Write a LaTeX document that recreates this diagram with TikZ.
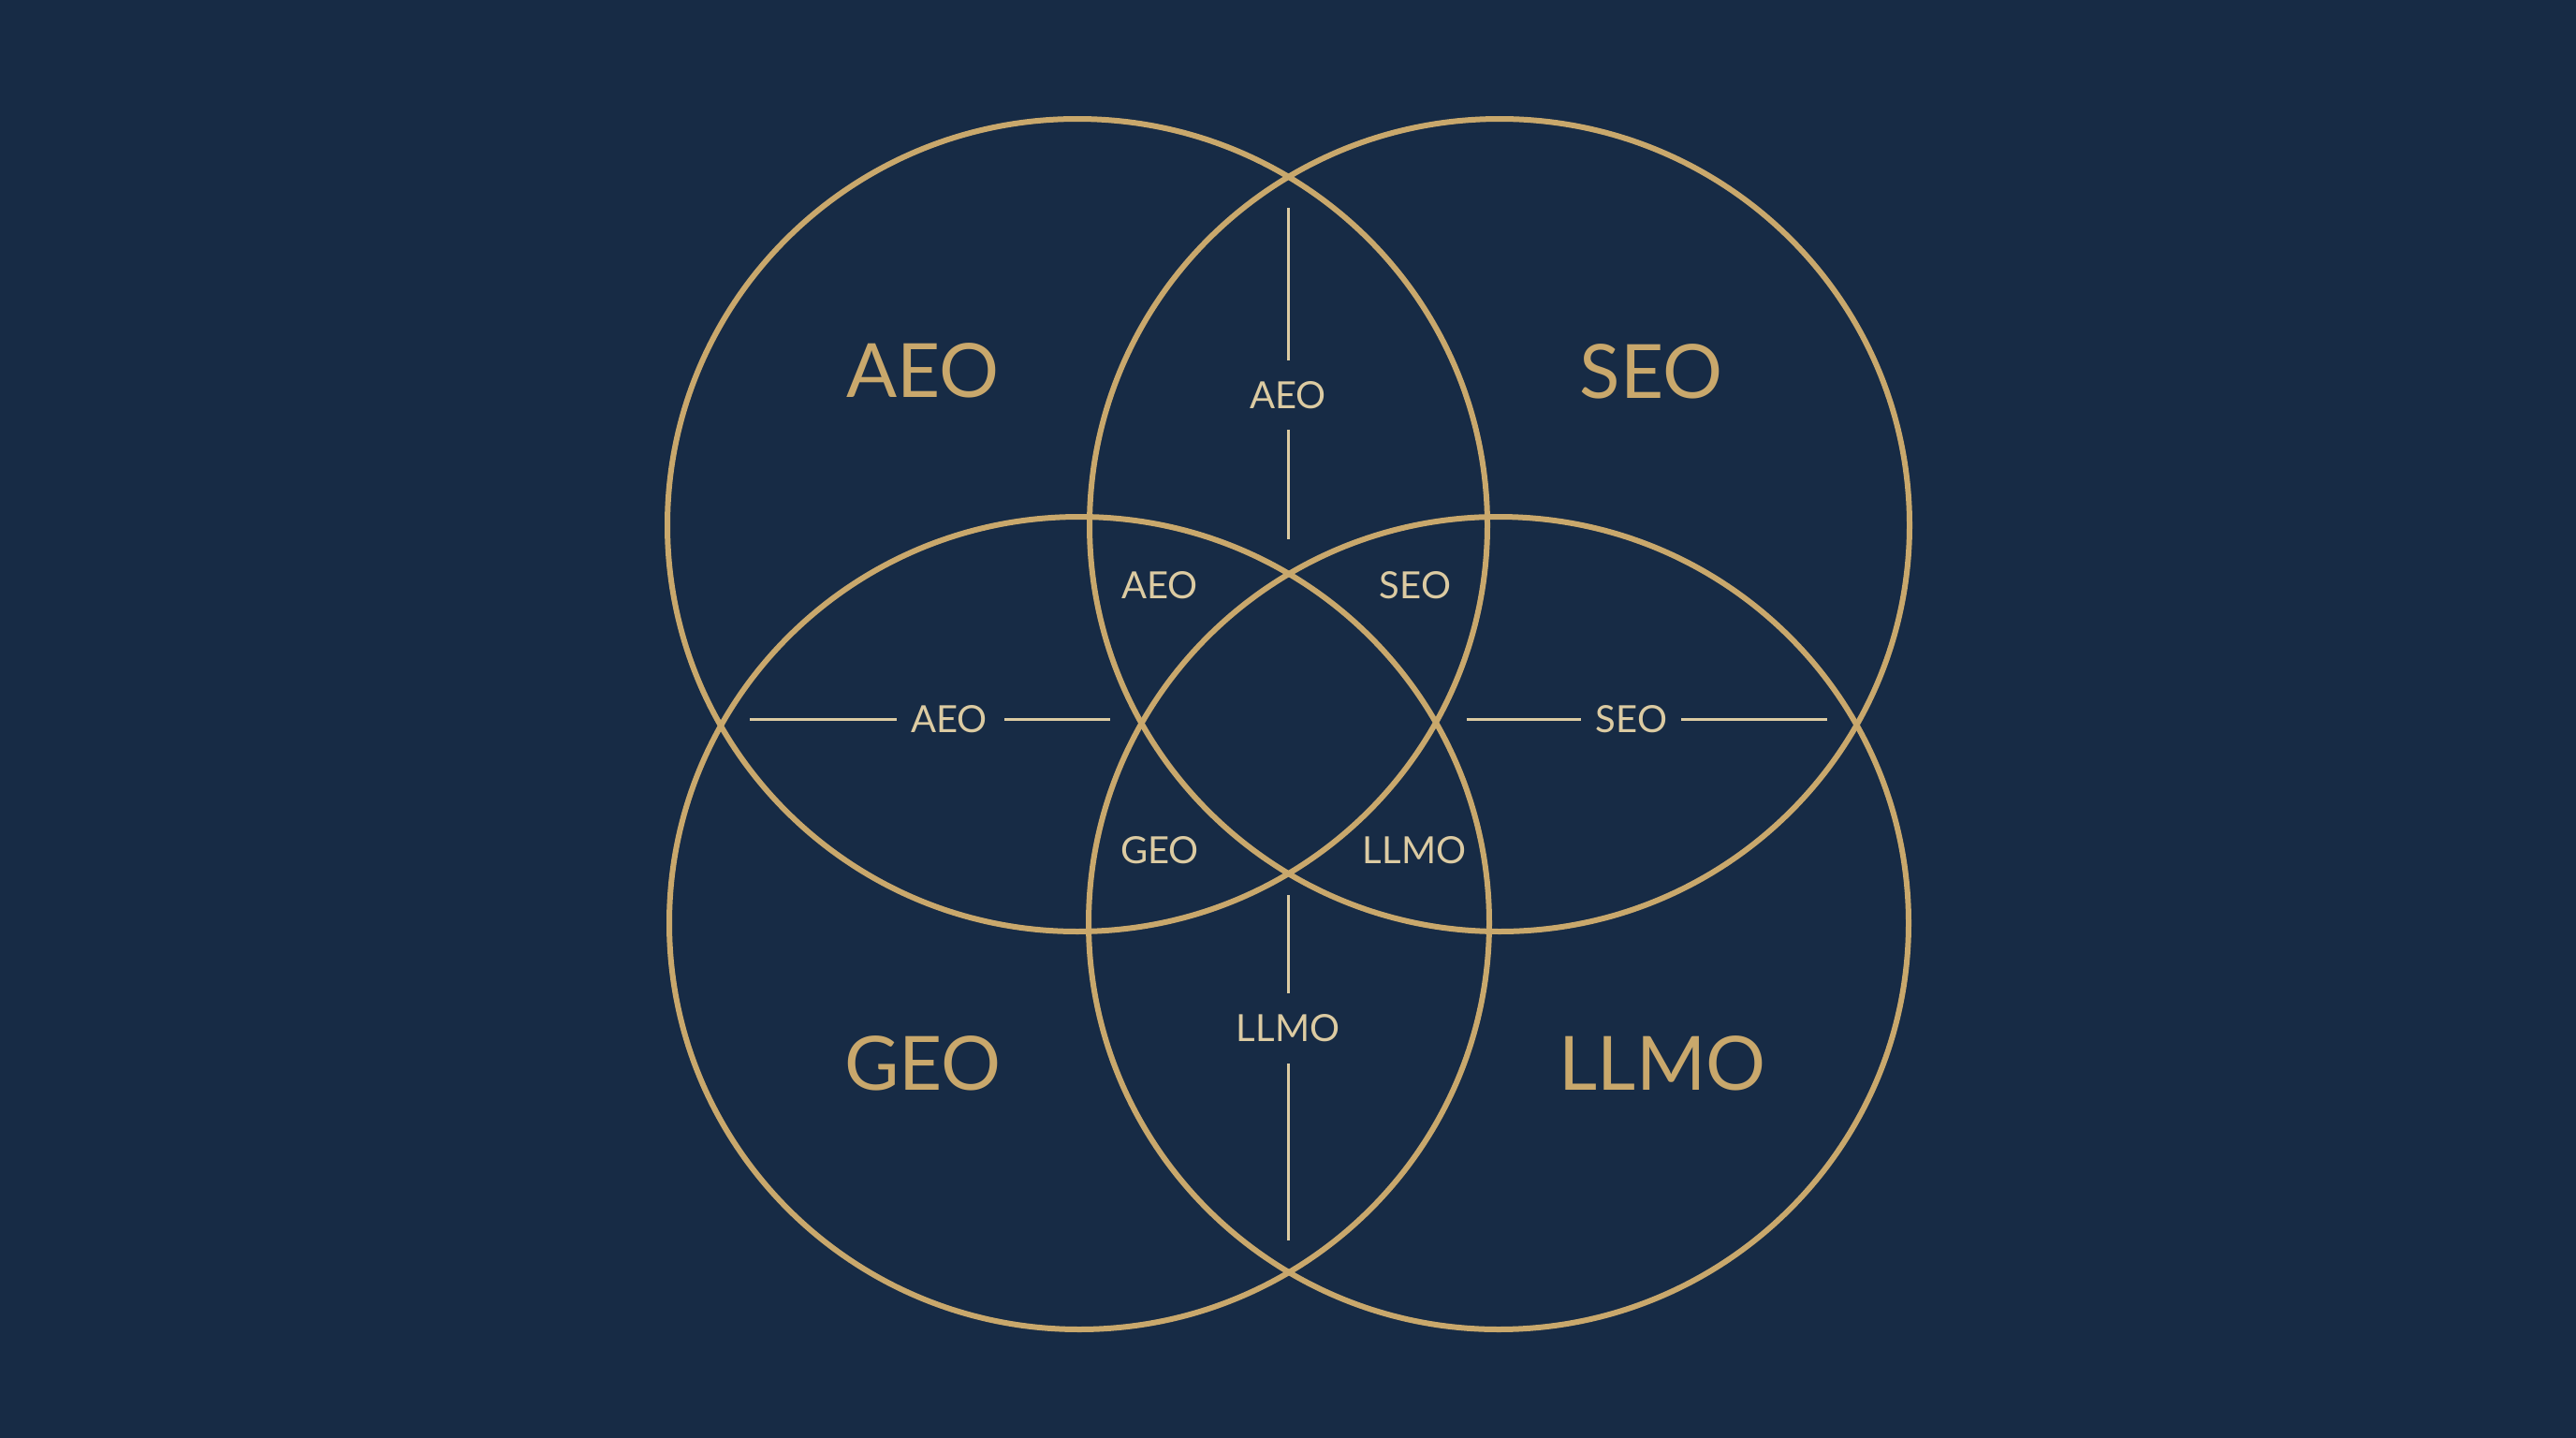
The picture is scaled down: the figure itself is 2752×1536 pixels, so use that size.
\documentclass[tikz,border=0pt]{standalone}
\usepackage{fontspec}
\usetikzlibrary{shapes.geometric}
\setmainfont{Lato}
\definecolor{bg}{HTML}{172B45}
\definecolor{gold}{HTML}{C9A86C}
\definecolor{cream}{HTML}{DCCBA2}
\begin{document}
\begin{tikzpicture}[x=1pt,y=-1pt,
  ring/.style={ellipse,draw=gold,line width=6pt,minimum width=876pt,minimum height=868pt,inner sep=0pt},
  biglabel/.style={text=gold,font=\fontsize{80}{96}\selectfont,inner sep=0pt},
  smalllabel/.style={text=cream,font=\fontsize{40}{48}\selectfont,inner sep=0pt},
  rulel/.style={draw=cream,line width=3pt}]
\fill[bg] (0,0) rectangle (2752,1536);
\useasboundingbox (0,0) rectangle (2752,1536);
% circles
\node[ring] (cAEO) at (1151,561) {};
\node[ring] (cSEO) at (1602,561) {};
\node[ring] (cGEO) at (1153,986) {};
\node[ring] (cLLMO) at (1601,986) {};
% big labels
\node[biglabel] (lAEO) at (986,396) {AEO};
\node[biglabel] (lSEO) at (1764,397) {SEO};
\node[biglabel] (lGEO) at (986,1136) {GEO};
\node[biglabel] (lLLMO) at (1776,1136) {LLMO};
% small labels
\node[smalllabel] (sTop) at (1376,422) {AEO};
\node[smalllabel] (sAEO) at (1239,625) {AEO};
\node[smalllabel] (sSEO) at (1512,625) {SEO};
\node[smalllabel] (sGEO) at (1239,908) {GEO};
\node[smalllabel] (sLLMO) at (1511,908) {LLMO};
\node[smalllabel] (sLeft) at (1014,768) {AEO};
\node[smalllabel] (sRight) at (1743,768) {SEO};
\node[smalllabel] (sBot) at (1376,1098) {LLMO};
% rule end points
\coordinate (t1) at (1376,222); \coordinate (t2) at (1376,385);
\coordinate (t3) at (1376,459); \coordinate (t4) at (1376,576);
\coordinate (b1) at (1376,956); \coordinate (b2) at (1376,1061);
\coordinate (b3) at (1376,1136); \coordinate (b4) at (1376,1325);
\coordinate (l1) at (801,768); \coordinate (l2) at (958,768);
\coordinate (l3) at (1073,768); \coordinate (l4) at (1186,768);
\coordinate (r1) at (1567,768); \coordinate (r2) at (1689,768);
\coordinate (r3) at (1796,768); \coordinate (r4) at (1952,768);
\draw[rulel] (t1) -- (t2);
\draw[rulel] (t3) -- (t4);
\draw[rulel] (b1) -- (b2);
\draw[rulel] (b3) -- (b4);
\draw[rulel] (l1) -- (l2);
\draw[rulel] (l3) -- (l4);
\draw[rulel] (r1) -- (r2);
\draw[rulel] (r3) -- (r4);
\end{tikzpicture}
\end{document}
